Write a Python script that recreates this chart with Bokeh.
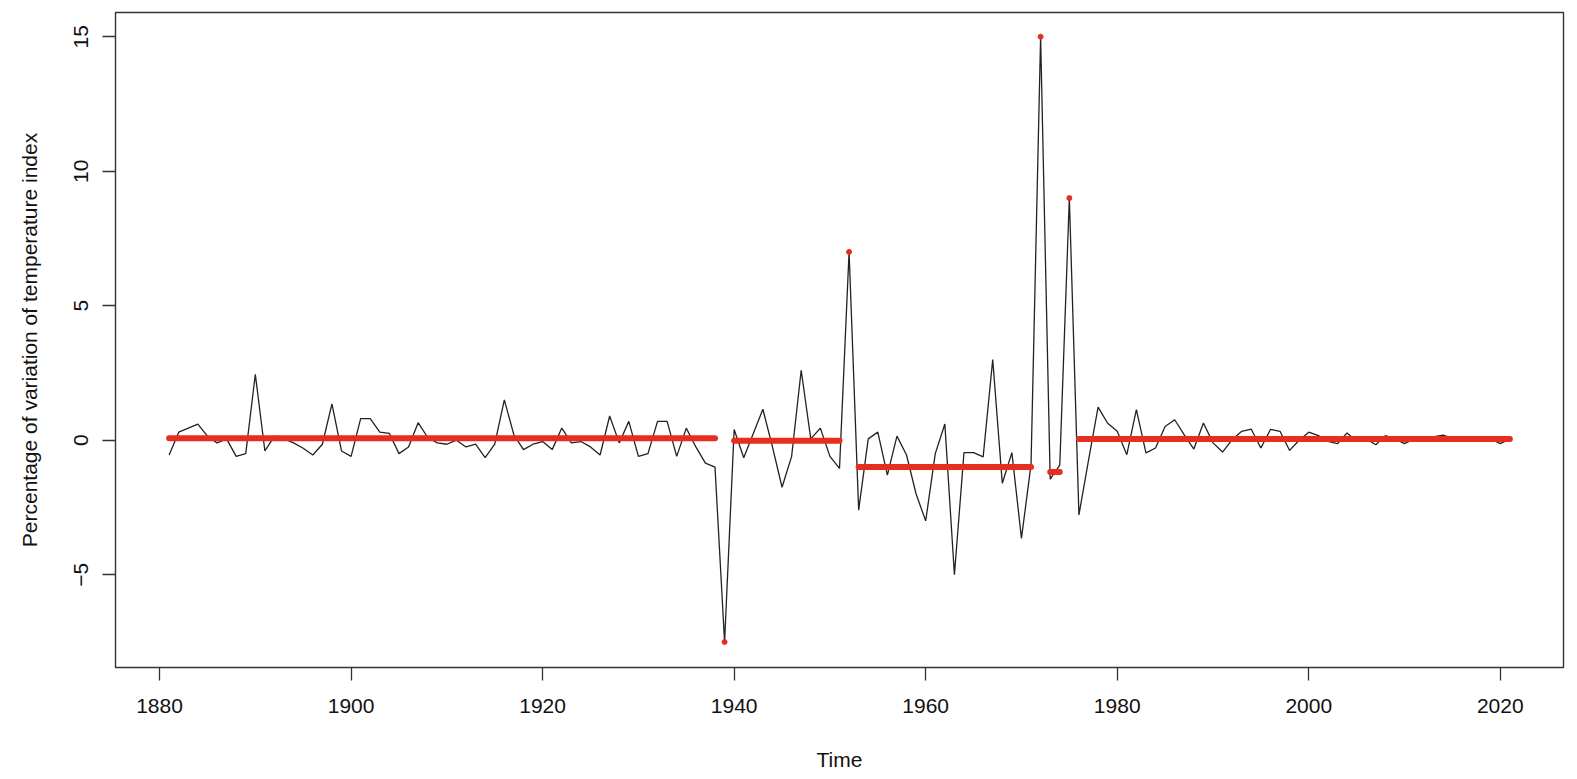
from bokeh.plotting import figure
from bokeh.models import FixedTicker, Range1d
from bokeh.embed import file_html
from bokeh.resources import INLINE

# ---- data -------------------------------------------------------------
years = list(range(1881, 2022))
values = [
    # 1881-1890
    -0.55, 0.30, 0.45, 0.60, 0.15, -0.10, 0.05, -0.60, -0.50, 2.45,
    # 1891-1900
    -0.40, 0.15, 0.05, -0.10, -0.30, -0.55, -0.15, 1.35, -0.40, -0.60,
    # 1901-1910
    0.80, 0.80, 0.30, 0.25, -0.50, -0.25, 0.65, 0.10, -0.10, -0.15,
    # 1911-1920
    0.00, -0.25, -0.15, -0.65, -0.15, 1.50, 0.20, -0.35, -0.15, -0.05,
    # 1921-1930
    -0.35, 0.45, -0.10, -0.05, -0.25, -0.55, 0.90, -0.10, 0.70, -0.60,
    # 1931-1940
    -0.50, 0.70, 0.70, -0.60, 0.45, -0.25, -0.85, -1.00, -7.50, 0.40,
    # 1941-1950
    -0.65, 0.25, 1.15, -0.25, -1.75, -0.60, 2.60, 0.05, 0.45, -0.60,
    # 1951-1960
    -1.05, 7.00, -2.60, 0.05, 0.30, -1.30, 0.15, -0.55, -2.00, -3.00,
    # 1961-1970
    -0.50, 0.60, -5.00, -0.46, -0.46, -0.62, 3.00, -1.60, -0.46, -3.65,
    # 1971-1980
    -0.90, 15.00, -1.45, -0.93, 9.00, -2.78, -0.75, 1.23, 0.63, 0.33,
    # 1981-1990
    -0.54, 1.14, -0.47, -0.29, 0.51, 0.76, 0.20, -0.33, 0.64, -0.10,
    # 1991-2000
    -0.44, 0.02, 0.33, 0.41, -0.29, 0.40, 0.33, -0.38, 0.00, 0.30,
    # 2001-2010
    0.17, -0.04, -0.13, 0.27, -0.04, 0.05, -0.17, 0.17, 0.05, -0.13,
    # 2011-2021
    0.05, 0.05, 0.12, 0.19, 0.08, -0.04, -0.04, 0.05, 0.05, -0.13, 0.05,
]

seg_start = [1881, 1940, 1953, 1973, 1976]
seg_end = [1938, 1951, 1971, 1974, 2021]
seg_level = [0.07, -0.02, -1.00, -1.18, 0.04]

outlier_years = [1939, 1952, 1972, 1975]
outlier_values = [-7.5, 7.0, 15.0, 9.0]

x_ticks = [1880, 1900, 1920, 1940, 1960, 1980, 2000, 2020]
y_ticks = [-5, 0, 5, 10, 15]

# ---- figure -----------------------------------------------------------
FONT = "Liberation Sans"
RED = "#e52e20"

p = figure(
    width=1577, height=779,
    output_backend="svg", toolbar_location=None,
    x_range=Range1d(1875.4, 2026.6), y_range=Range1d(-8.45, 15.9),
    min_border_left=115, min_border_right=14,
    min_border_top=12, min_border_bottom=112,
    background_fill_color="white", border_fill_color="white",
)
p.xgrid.visible = False
p.ygrid.visible = False
p.outline_line_color = "#333333"
p.outline_line_width = 1.4

p.line(years, values, line_color="#222222", line_width=1.3)
p.segment(x0=seg_start, y0=seg_level, x1=seg_end, y1=seg_level,
          line_color=RED, line_width=6, line_cap="round")
p.scatter(outlier_years, outlier_values, size=5, color=RED, line_color=RED)

for ax in (p.xaxis[0], p.yaxis[0]):
    ax.axis_line_color = None
    ax.major_tick_line_color = "#333333"
    ax.major_tick_line_width = 1.3
    ax.major_tick_out = 13
    ax.major_tick_in = 0
    ax.minor_tick_line_color = None
    ax.major_label_text_font = FONT
    ax.major_label_text_font_size = "21px"
    ax.major_label_text_color = "#111111"
    ax.axis_label_text_font = FONT
    ax.axis_label_text_font_size = "21px"
    ax.axis_label_text_font_style = "normal"
    ax.axis_label_text_color = "#111111"

p.xaxis[0].ticker = FixedTicker(ticks=x_ticks)
p.yaxis[0].ticker = FixedTicker(ticks=y_ticks)
p.yaxis[0].major_label_orientation = "vertical"
p.xaxis[0].major_label_standoff = 18
p.yaxis[0].major_label_standoff = 14
p.xaxis[0].axis_label = "Time"
p.yaxis[0].axis_label = "Percentage of variation of temperature index"
p.xaxis[0].axis_label_standoff = 32
p.yaxis[0].axis_label_standoff = 31

open("out.html", "w").write(file_html(p, INLINE))
